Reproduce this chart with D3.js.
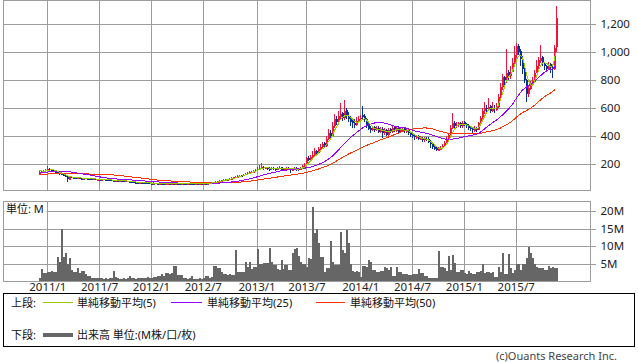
<!DOCTYPE html>
<html>
<head>
<meta charset="utf-8">
<script src="https://cdn.jsdelivr.net/npm/d3@7"></script>
<style>
  body { margin: 0; background: #fff; }
  svg { display: block; font-family: "Noto Sans", "Noto Sans CJK JP", sans-serif; }
</style>
</head>
<body>
<svg id="chart" width="638" height="362"></svg>
<script>
// weekly bars, Mondays from 2010/12/6 to 2015/11/23
const firstWeek = new Date(2010, 11, 6);
const lastWeek = new Date(2015, 10, 23);
const tickLabels = ["2011/1", "2011/7", "2012/1", "2012/7", "2013/1", "2013/7", "2014/1", "2014/7", "2015/1", "2015/7"];
const priceTicks = [200, 400, 600, 800, 1000, 1200];
const volumeTicks = [5, 10, 15, 20];

// closes before the first drawn week, only used to seed the moving averages
const priorCloses = [112, 115, 118, 116, 114, 117, 120, 118, 115, 113, 110, 112, 115, 118, 120, 117, 114, 112,
  110, 113, 116, 118, 115, 112, 110, 108, 111, 114, 117, 119, 116, 113, 115, 118, 120, 122,
  128, 135, 140, 145, 150, 155, 160, 158, 162, 165, 160, 155, 150];

const opens = [
  125, 140, 149, 151, 157, 166, 161, 156, 150, 146,
  138, 129, 123, 121, 117, 88, 109, 105, 103, 99,
  102, 100, 97, 101, 98, 97, 95, 91, 94, 89,
  92, 88, 93, 90, 89, 88, 86, 84, 81, 85,
  79, 82, 80, 77, 81, 77, 74, 72, 71, 70,
  67, 71, 68, 67, 66, 65, 64, 61, 65, 63,
  60, 64, 63, 59, 60, 63, 59, 63, 60, 64,
  63, 59, 63, 62, 59, 63, 62, 61, 58, 62,
  59, 63, 60, 64, 61, 65, 62, 65, 67, 71,
  75, 79, 85, 87, 87, 91, 95, 99, 103, 107,
  111, 119, 117, 123, 129, 137, 139, 146, 149, 157,
  164, 171, 179, 169, 176, 171, 164, 173, 169, 162,
  169, 176, 166, 159, 167, 173, 166, 157, 161, 171,
  167, 159, 174, 186, 196, 243, 230, 248, 264, 292,
  278, 308, 318, 348, 328, 378, 425, 398, 468, 525,
  498, 538, 565, 528, 585, 545, 522, 505, 495, 478,
  508, 522, 548, 545, 525, 478, 455, 442, 462, 448,
  458, 428, 452, 418, 445, 408, 448, 428, 463, 438,
  458, 428, 443, 452, 432, 442, 422, 412, 402, 388,
  397, 378, 388, 368, 382, 378, 362, 342, 322, 312,
  298, 303, 313, 328, 348, 378, 408, 458, 495, 468,
  478, 492, 468, 498, 488, 478, 462, 452, 438, 458,
  443, 488, 528, 578, 602, 588, 612, 578, 602, 588,
  608, 678, 748, 822, 798, 855, 828, 858, 918, 978,
  1045, 1005, 948, 878, 798, 698, 738, 768, 788, 848,
  898, 938, 965, 918, 902, 878, 912, 892, 882, 1035
];
const highs = [
  152, 155, 160, 166, 186, 172, 165, 160, 154, 150,
  140, 132, 127, 124, 119, 112, 112, 108, 106, 105,
  104, 102, 103, 103, 100, 99, 97, 96, 96, 94,
  94, 95, 95, 92, 91, 90, 88, 87, 88, 86,
  84, 84, 82, 83, 82, 78, 76, 74, 73, 72,
  73, 72, 70, 69, 68, 67, 66, 68, 67, 65,
  67, 66, 65, 64, 66, 65, 66, 65, 74, 66,
  65, 65, 66, 64, 66, 65, 64, 63, 64, 64,
  65, 65, 66, 66, 68, 67, 70, 72, 77, 80,
  84, 88, 92, 92, 96, 100, 106, 110, 113, 118,
  122, 125, 130, 137, 143, 148, 152, 158, 166, 180,
  190, 205, 184, 182, 180, 176, 180, 178, 172, 178,
  185, 180, 172, 175, 182, 178, 172, 170, 180, 178,
  172, 182, 195, 207, 250, 257, 262, 290, 314, 300,
  320, 340, 360, 355, 400, 450, 443, 500, 560, 540,
  580, 633, 575, 657, 600, 574, 540, 530, 520, 538,
  540, 550, 614, 560, 530, 490, 470, 475, 470, 470,
  470, 466, 466, 460, 450, 460, 455, 475, 470, 470,
  470, 455, 466, 460, 450, 450, 430, 420, 410, 410,
  405, 400, 395, 395, 395, 390, 370, 350, 330, 320,
  320, 330, 345, 365, 400, 425, 480, 564, 505, 500,
  502, 500, 505, 505, 495, 485, 470, 460, 470, 465,
  500, 540, 600, 640, 625, 669, 620, 640, 620, 633,
  700, 780, 840, 830, 1019, 870, 900, 960, 1040, 1062,
  1060, 1020, 970, 900, 810, 760, 790, 820, 870, 940,
  967, 1050, 975, 930, 910, 931, 925, 900, 1048, 1330
];
const lows = [
  121, 136, 144, 148, 154, 155, 150, 144, 140, 132,
  124, 118, 115, 114, 74, 85, 100, 98, 96, 96,
  96, 94, 95, 94, 92, 91, 89, 88, 87, 87,
  86, 86, 88, 85, 84, 82, 80, 79, 79, 77,
  77, 76, 75, 75, 72, 70, 68, 67, 66, 65,
  65, 64, 63, 62, 61, 60, 59, 60, 59, 58,
  58, 59, 57, 57, 58, 57, 57, 58, 58, 59,
  57, 57, 58, 57, 57, 58, 57, 56, 56, 57,
  57, 58, 58, 59, 59, 60, 60, 63, 65, 69,
  72, 77, 80, 83, 84, 88, 92, 96, 100, 104,
  106, 110, 112, 118, 124, 130, 133, 138, 144, 150,
  158, 165, 160, 164, 160, 152, 158, 158, 150, 156,
  162, 156, 150, 152, 160, 154, 134, 150, 155, 150,
  150, 155, 168, 178, 190, 225, 226, 240, 258, 268,
  270, 300, 310, 320, 320, 370, 380, 390, 460, 480,
  490, 520, 510, 515, 520, 500, 470, 460, 455, 470,
  495, 505, 520, 500, 460, 440, 425, 435, 430, 438,
  420, 420, 386, 410, 400, 400, 420, 420, 430, 430,
  420, 420, 438, 425, 425, 410, 395, 385, 375, 380,
  370, 368, 359, 360, 362, 350, 312, 305, 300, 295,
  295, 298, 305, 320, 340, 370, 400, 450, 455, 460,
  465, 455, 460, 470, 460, 445, 435, 425, 430, 431,
  440, 480, 520, 560, 570, 580, 562, 570, 565, 580,
  600, 660, 730, 752, 780, 800, 810, 880, 895, 960,
  980, 900, 840, 776, 645, 680, 729, 760, 780, 848,
  880, 920, 900, 871, 860, 870, 850, 812, 875, 1000
];
const closes = [
  140, 148, 152, 158, 165, 160, 155, 150, 145, 138,
  128, 122, 120, 118, 90, 108, 104, 102, 100, 101,
  99, 98, 100, 97, 96, 94, 92, 93, 90, 91,
  89, 92, 90, 88, 87, 85, 83, 82, 84, 80,
  81, 79, 78, 80, 76, 73, 71, 70, 69, 68,
  70, 67, 66, 65, 64, 63, 62, 64, 62, 61,
  63, 62, 60, 61, 62, 60, 62, 61, 63, 62,
  60, 62, 61, 60, 62, 61, 60, 59, 61, 60,
  62, 61, 63, 62, 64, 63, 66, 68, 72, 76,
  80, 84, 86, 88, 92, 96, 100, 104, 108, 112,
  116, 118, 124, 130, 136, 140, 145, 150, 158, 165,
  172, 178, 170, 175, 170, 165, 172, 168, 163, 170,
  175, 165, 160, 168, 172, 165, 158, 162, 170, 166,
  160, 175, 185, 195, 240, 232, 250, 265, 290, 280,
  310, 320, 345, 330, 380, 420, 400, 470, 520, 500,
  540, 560, 530, 580, 540, 520, 500, 490, 480, 505,
  520, 530, 540, 520, 470, 450, 440, 460, 445, 455,
  430, 450, 420, 440, 410, 445, 430, 460, 440, 455,
  430, 445, 450, 435, 440, 420, 410, 400, 390, 395,
  380, 385, 370, 380, 375, 360, 340, 320, 310, 300,
  305, 315, 330, 350, 380, 410, 460, 490, 470, 480,
  490, 470, 495, 485, 475, 460, 450, 440, 455, 445,
  490, 530, 580, 600, 590, 610, 580, 600, 590, 610,
  680, 750, 820, 800, 850, 830, 860, 920, 980, 1040,
  1000, 950, 880, 800, 700, 740, 770, 790, 850, 900,
  940, 960, 920, 900, 880, 910, 890, 880, 1030, 1240
];
// volume, millions
const volumes = [
  1.0, 3.4, 2.2, 2.2, 2.5, 2.5, 2.9, 2.7, 2.7, 6.9,
  5.5, 15.0, 6.9, 8.1, 5.0, 6.7, 3.1, 2.5, 2.5, 3.6,
  2.4, 2.9, 2.9, 1.9, 1.4, 1.4, 0.9, 1.0, 0.8, 0.9,
  1.0, 0.8, 0.7, 0.8, 0.7, 0.9, 0.8, 2.9, 1.2, 0.8,
  0.7, 0.7, 0.8, 0.6, 1.0, 1.4, 0.9, 0.8, 0.7, 0.9,
  0.8, 0.9, 1.0, 0.9, 1.1, 1.0, 0.8, 1.2, 1.1, 1.5,
  1.5, 2.1, 1.5, 2.3, 2.3, 2.0, 2.3, 4.3, 4.3, 1.8,
  1.8, 1.8, 1.0, 1.0, 0.7, 0.8, 1.4, 0.7, 0.6, 0.7,
  0.8, 0.7, 0.9, 1.3, 1.3, 1.0, 1.2, 4.4, 4.4, 3.8,
  3.8, 2.5, 1.9, 1.9, 1.8, 1.9, 1.7, 1.7, 8.8, 2.7,
  2.7, 2.5, 2.5, 5.5, 3.9, 5.5, 3.5, 3.9, 3.9, 9.1,
  5.0, 5.0, 5.2, 5.2, 5.2, 9.5, 5.5, 4.6, 4.6, 3.4,
  3.2, 6.0, 3.5, 4.6, 4.6, 3.1, 3.1, 7.9, 9.1, 9.3,
  7.1, 5.5, 5.0, 5.0, 3.9, 6.5, 6.4, 21.2, 13.6, 15.0,
  10.8, 7.0, 7.0, 2.7, 3.6, 3.6, 11.5, 5.5, 4.6, 4.6,
  4.6, 14.1, 8.9, 7.9, 14.6, 10.8, 5.0, 3.0, 2.7, 3.0,
  2.5, 1.2, 4.3, 4.3, 3.9, 6.0, 5.3, 3.1, 3.1, 2.7,
  2.7, 3.0, 3.0, 3.9, 3.6, 3.1, 4.1, 1.4, 1.4, 4.1,
  2.7, 2.7, 2.0, 2.0, 2.0, 1.7, 1.7, 2.0, 2.0, 2.0,
  3.3, 2.4, 2.4, 1.4, 1.4, 1.0, 0.8, 0.8, 1.0, 1.0,
  8.7, 4.1, 4.1, 3.6, 2.9, 7.1, 3.1, 7.4, 5.2, 2.7,
  2.7, 3.1, 3.1, 2.2, 2.0, 2.9, 2.4, 2.0, 2.0, 2.7,
  2.7, 2.9, 4.9, 2.4, 2.7, 2.7, 2.2, 2.7, 1.2, 1.2,
  4.1, 2.7, 8.1, 2.0, 2.0, 7.7, 3.6, 2.2, 3.1, 5.0,
  5.0, 3.1, 4.9, 4.9, 6.5, 9.8, 7.9, 6.5, 5.0, 4.1,
  3.6, 3.6, 3.6, 3.1, 3.1, 4.3, 3.6, 4.1, 3.6, 3.6
];

const UP = "#f0143c", DOWN = "#0a3296";
const GRID = "#9c9c9c";
const MA_COLORS = { 5: "#99cc00", 25: "#9900ff", 50: "#ff3300" };

const weeks = d3.timeMonday.range(firstWeek, d3.timeDay.offset(lastWeek, 1));
const data = weeks.map((date, i) => ({
  date, open: opens[i], high: highs[i], low: lows[i], close: closes[i], volume: volumes[i]
}));

function movingAverage(n) {
  const all = priorCloses.concat(closes);
  return closes.map((c, i) => {
    const end = priorCloses.length + i + 1;
    return d3.mean(all.slice(Math.max(0, end - n), end));
  });
}

const svg = d3.select("#chart");
const L = 3.5, R = 590.5;
const P = { top: 0.5, bottom: 190.5 };
const V = { top: 201.5, bottom: 281 };

const x = d3.scaleTime()
  .domain([new Date(2011, 0, 3), new Date(2015, 6, 6)])
  .range([47.3, 515.7]);
const y = d3.scaleLinear().domain([0, 1200]).range([192, 24]);
const yv = d3.scaleLinear().domain([0, 20]).range([V.bottom, 211]);

const tickDates = tickLabels.map(s => {
  const [yy, mm] = s.split("/").map(Number);
  return weeks.find(d => d.getFullYear() === yy && d.getMonth() === mm - 1);
});

function styleAxis(g) {
  g.select(".domain").remove();
  g.selectAll(".tick line").attr("stroke", GRID).attr("shape-rendering", "crispEdges");
  g.selectAll(".tick text").attr("fill", "#222").attr("font-size", "11.5px")
    .attr("font-family", "\"Noto Sans\", sans-serif");
}

// ---- price panel
svg.append("g").attr("transform", `translate(0,${P.bottom})`)
  .call(d3.axisBottom(x).tickValues(tickDates).tickSize(-(P.bottom - P.top)).tickFormat(""))
  .call(styleAxis);
svg.append("g").attr("transform", "translate(595.5,0)")
  .call(d3.axisRight(y).tickValues(priceTicks).tickSize(-592).tickPadding(5).tickFormat(d3.format(",")))
  .call(styleAxis);
svg.append("rect").attr("x", L).attr("y", P.top).attr("width", R - L).attr("height", P.bottom - P.top)
  .attr("fill", "none").attr("stroke", GRID).attr("shape-rendering", "crispEdges");

const candles = svg.append("g").attr("shape-rendering", "crispEdges")
  .selectAll("g").data(data).join("g")
  .attr("fill", d => d.close >= d.open ? UP : DOWN)
  .attr("stroke", d => d.close >= d.open ? UP : DOWN);
candles.append("line")
  .attr("x1", d => Math.round(x(d.date)) + 0.5).attr("x2", d => Math.round(x(d.date)) + 0.5)
  .attr("y1", d => y(d.high)).attr("y2", d => y(d.low));
candles.append("rect")
  .attr("stroke", "none")
  .attr("x", d => Math.round(x(d.date))).attr("width", 2)
  .attr("y", d => y(Math.max(d.open, d.close)))
  .attr("height", d => Math.max(1.5, Math.abs(y(d.open) - y(d.close))));

[50, 25, 5].forEach(n => {
  const ma = movingAverage(n);
  svg.append("path")
    .datum(data)
    .attr("fill", "none").attr("stroke", MA_COLORS[n]).attr("stroke-width", 1)
    .attr("shape-rendering", "crispEdges")
    .attr("d", d3.line().x(d => x(d.date)).y((d, i) => y(ma[i])));
});

// ---- volume panel
svg.append("g").attr("transform", `translate(0,${V.bottom})`)
  .call(d3.axisBottom(x).tickValues(tickDates).tickSize(-(V.bottom - V.top)).tickPadding(2)
    .tickFormat((d, i) => tickLabels[i]))
  .call(styleAxis);
svg.append("g").attr("transform", "translate(595.5,0)")
  .call(d3.axisRight(yv).tickValues(volumeTicks).tickSize(-592).tickPadding(5).tickFormat(d => d + "M"))
  .call(styleAxis);

svg.append("g").attr("shape-rendering", "crispEdges")
  .selectAll("rect").data(data).join("rect")
  .attr("fill", "#666")
  .attr("x", d => Math.round(x(d.date))).attr("width", 2)
  .attr("y", d => yv(d.volume)).attr("height", d => V.bottom - yv(d.volume));

svg.append("rect").attr("x", L).attr("y", V.top).attr("width", R - L).attr("height", V.bottom - V.top)
  .attr("fill", "none").attr("stroke", GRID).attr("shape-rendering", "crispEdges");
svg.append("rect").attr("x", 4.5).attr("y", 202.5).attr("width", 42).attr("height", 12).attr("fill", "#fff");
svg.append("text").attr("x", 6).attr("y", 213).attr("font-size", "11px").attr("fill", "#111").text("単位: M");

// ---- legend
svg.append("rect").attr("x", 3.5).attr("y", 293.5).attr("width", 631).attr("height", 53)
  .attr("fill", "none").attr("stroke", "#000").attr("shape-rendering", "crispEdges");
const legendTop = [
  { n: 5, x1: 43, x2: 73, tx: 77 },
  { n: 25, x1: 171, x2: 202, tx: 207 },
  { n: 50, x1: 316, x2: 345, tx: 350 }
];
const lg = svg.append("g").attr("font-size", "11px").attr("fill", "#111");
lg.append("text").attr("x", 11).attr("y", 306.5).text("上段:");
legendTop.forEach(o => {
  lg.append("line").attr("x1", o.x1).attr("x2", o.x2).attr("y1", 302.5).attr("y2", 302.5)
    .attr("stroke", MA_COLORS[o.n]).attr("shape-rendering", "crispEdges");
  lg.append("text").attr("x", o.tx).attr("y", 306.5).text(`単純移動平均(${o.n})`);
});
lg.append("text").attr("x", 11).attr("y", 339).text("下段:");
lg.append("line").attr("x1", 43).attr("x2", 73).attr("y1", 335).attr("y2", 335)
  .attr("stroke", "#666").attr("stroke-width", 4);
lg.append("text").attr("x", 77).attr("y", 339).text("出来高 単位:(M株/口/枚)");

svg.append("text").attr("x", 617).attr("y", 360).attr("text-anchor", "end")
  .attr("font-size", "11px").attr("fill", "#444").text("(c)Ouants Research Inc.");
</script>
</body>
</html>
